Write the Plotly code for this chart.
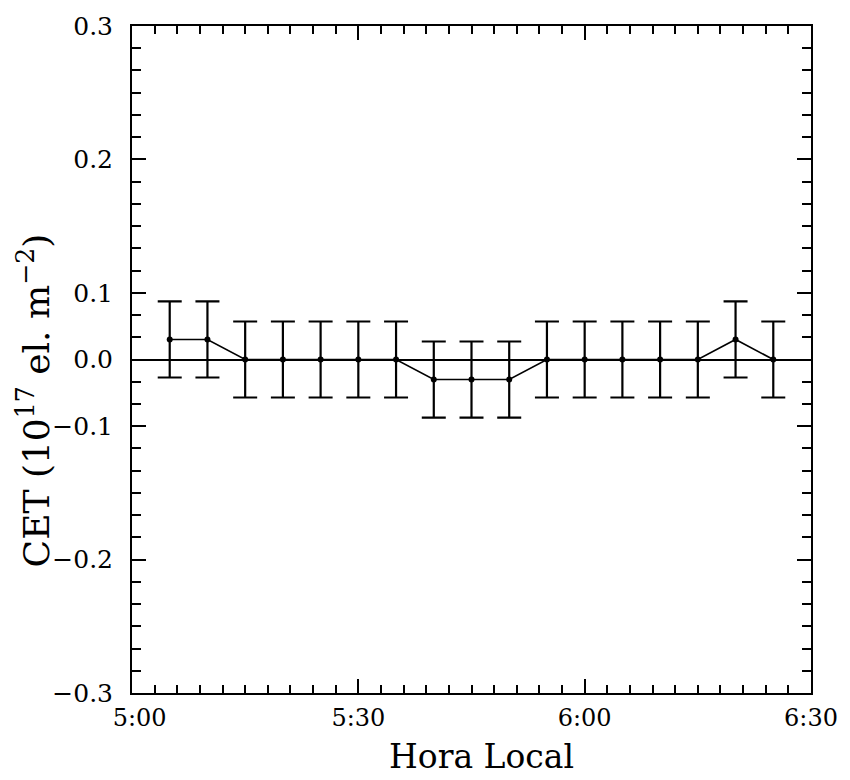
import plotly.graph_objects as go

# ---- data ----
times = ["5:05", "5:10", "5:15", "5:20", "5:25", "5:30", "5:35", "5:40", "5:45",
         "5:50", "5:55", "6:00", "6:05", "6:10", "6:15", "6:20", "6:25"]
cet = [0.03, 0.03, 0.0, 0.0, 0.0, 0.0, 0.0, -0.03, -0.03,
       -0.03, 0.0, 0.0, 0.0, 0.0, 0.0, 0.03, 0.0]
err = [0.057] * 17

x_tickvals = [0, 30, 60, 90]
x_ticktext = ["\u00a0\u00a05:00", "5:30", "6:00", "6:30"]
y_tickvals = [-0.5, -0.3, -0.1, 0.0, 0.1, 0.3, 0.5]
y_ticktext = ["\u22120.3", "\u22120.2", "\u22120.1", "0.0", "0.1", "0.2", "0.3"]


def to_min(t):
    h, m = t.split(":")
    return (int(h) - 5) * 60 + int(m)


xmin = [to_min(t) for t in times]

FONT = "DejaVu Serif"

fig = go.Figure()
fig.add_trace(go.Scatter(
    x=xmin, y=cet, mode="lines+markers",
    line=dict(color="black", width=1.6),
    marker=dict(color="black", size=6),
    error_y=dict(type="data", array=err, visible=True, color="black",
                 thickness=2.2, width=12),
    showlegend=False,
))

fig.update_layout(
    width=850, height=780,
    margin=dict(l=132, r=36, t=17, b=87),
    paper_bgcolor="white", plot_bgcolor="white",
    font=dict(family=FONT, color="black", size=25),
)

fig.update_xaxes(
    range=[0, 90], tickmode="array", tickvals=x_tickvals, ticktext=x_ticktext,
    showgrid=False, zeroline=False,
    showline=True, linecolor="black", linewidth=2, mirror="allticks",
    ticks="inside", ticklen=14, tickwidth=2, tickcolor="black",
    minor=dict(dtick=3, tick0=0, ticks="inside", ticklen=8, tickwidth=1.5,
               tickcolor="black", showgrid=False),
    tickfont=dict(family=FONT, size=24),
    ticklabelstandoff=2,
)

fig.update_yaxes(
    range=[-0.5, 0.5], tickmode="array", tickvals=y_tickvals, ticktext=y_ticktext,
    showgrid=False, zeroline=True, zerolinecolor="black", zerolinewidth=1.6,
    showline=True, linecolor="black", linewidth=2, mirror="allticks",
    ticks="inside", ticklen=14, tickwidth=2, tickcolor="black",
    minor=dict(dtick=1 / 30, tick0=0, ticks="inside", ticklen=9, tickwidth=1.5,
               tickcolor="black", showgrid=False),
    tickfont=dict(family=FONT, size=25),
    ticklabelstandoff=12,
)

fig.add_annotation(
    text="CET (10<sup>17</sup> el. m<sup>\u22122</sup>)",
    xref="paper", yref="paper", x=-0.145, y=0.438,
    xanchor="center", yanchor="middle", textangle=-90, showarrow=False,
    font=dict(family=FONT, size=36, color="black"),
)

fig.add_annotation(
    text="Hora Local",
    xref="paper", yref="paper", x=0.515, y=-0.095,
    xanchor="center", yanchor="middle", showarrow=False,
    font=dict(family=FONT, size=33, color="black"),
)

fig.write_html("out.html")
